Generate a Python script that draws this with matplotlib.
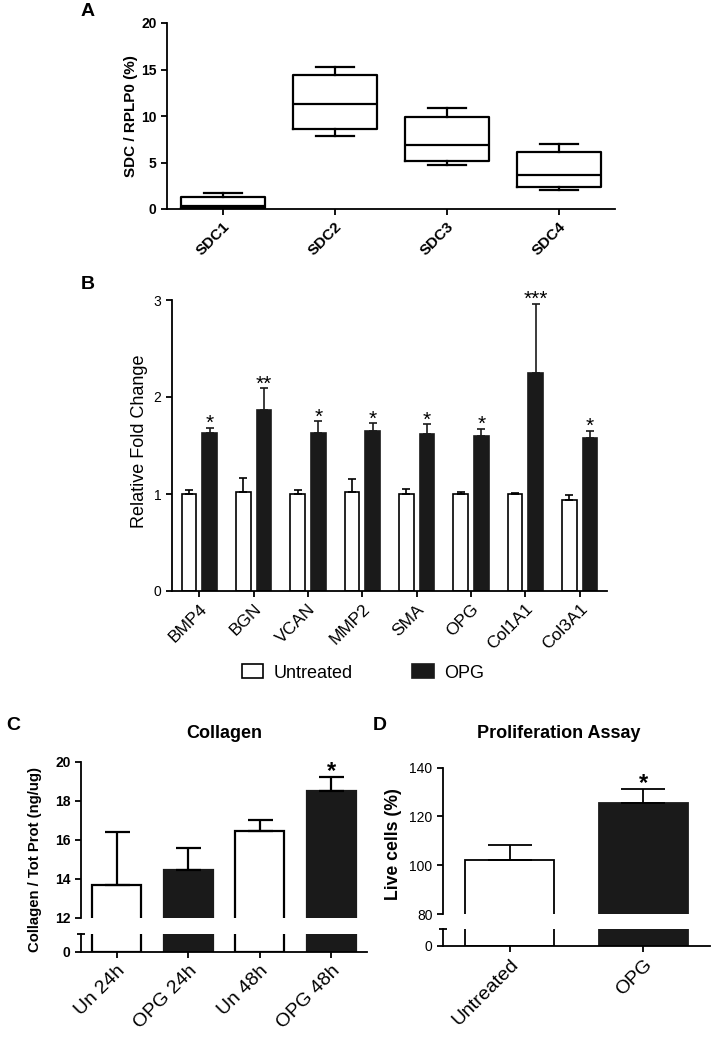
import numpy as np
import matplotlib.pyplot as plt
from matplotlib.patches import Patch

plt.rcParams['font.family'] = ['Liberation Sans', 'DejaVu Sans']
plt.rcParams['axes.linewidth'] = 1.3
plt.rcParams['xtick.major.width'] = 1.3
plt.rcParams['ytick.major.width'] = 1.3
plt.rcParams['xtick.major.size'] = 4
plt.rcParams['ytick.major.size'] = 4

# panel A - syndecan expression (box plots)
sdc_names = ['SDC1', 'SDC2', 'SDC3', 'SDC4']
sdc_whislo = [0.05, 7.86, 4.71, 2.0]
sdc_q1 = [0.15, 8.64, 5.14, 2.36]
sdc_med = [0.35, 11.32, 6.86, 3.64]
sdc_q3 = [1.29, 14.36, 9.89, 6.18]
sdc_whishi = [1.68, 15.25, 10.82, 7.0]

# panel B - relative fold change
genes = ['BMP4', 'BGN', 'VCAN', 'MMP2', 'SMA', 'OPG', 'Col1A1', 'Col3A1']
b_untreated = [1.00, 1.025, 1.00, 1.025, 1.00, 1.00, 1.00, 0.94]
b_untreated_err = [0.04, 0.145, 0.04, 0.13, 0.05, 0.025, 0.01, 0.045]
b_opg = [1.634, 1.861, 1.634, 1.648, 1.62, 1.603, 2.243, 1.579]
b_opg_err = [0.05, 0.23, 0.12, 0.08, 0.10, 0.07, 0.72, 0.075]
b_sig = ['*', '**', '*', '*', '*', '*', '***', '*']

# panel C - collagen
c_groups = ['Un 24h', 'OPG 24h', 'Un 48h', 'OPG 48h']
c_mean = [13.69, 14.44, 16.44, 18.50]
c_err = [2.69, 1.12, 0.55, 0.70]
c_sig = ['', '', '', '*']

# panel D - proliferation
d_groups = ['Untreated', 'OPG']
d_mean = [102.3, 125.4]
d_err = [6.0, 5.7]
d_sig = ['', '*']

BLACK = '#1a1a1a'
W, H = 719, 1050


def rect(l, t, r, b):
    return [l / W, (H - b) / H, (r - l) / W, (b - t) / H]


def clean(ax, bottom=True):
    ax.spines['top'].set_visible(False)
    ax.spines['right'].set_visible(False)
    if not bottom:
        ax.spines['bottom'].set_visible(False)
        ax.tick_params(axis='x', bottom=False, labelbottom=False)


fig = plt.figure(figsize=(7.19, 10.5), dpi=100)

# ---- A
axA = fig.add_axes(rect(167, 23, 615, 209))
stats = [dict(whislo=sdc_whislo[i], q1=sdc_q1[i], med=sdc_med[i], q3=sdc_q3[i],
              whishi=sdc_whishi[i], label=sdc_names[i]) for i in range(len(sdc_names))]
lp = dict(color='black', lw=1.6)
axA.bxp(stats, positions=range(1, 5), widths=0.75, capwidths=0.34, showfliers=False,
        boxprops=lp, medianprops=lp, whiskerprops=lp, capprops=lp)
axA.set_xlim(0.5, 4.5)
axA.set_ylim(0, 20)
axA.set_yticks(range(0, 21, 5))
axA.set_xticks(range(1, 5), sdc_names, rotation=45, ha='right', rotation_mode='anchor',
               fontweight='bold', fontsize=11)
plt.setp(axA.get_yticklabels(), fontweight='bold', fontsize=10)
axA.set_ylabel('SDC / RPLP0 (%)', fontweight='bold', fontsize=11)
axA.yaxis.set_label_coords(-0.065, 0.5)
clean(axA)

# ---- B
axB = fig.add_axes(rect(172, 300, 607, 591))
xb = np.arange(len(genes))
axB.bar(xb - 0.19, b_untreated, 0.27, color='white', edgecolor='black', lw=1.2)
axB.bar(xb + 0.19, b_opg, 0.27, color=BLACK, edgecolor=BLACK, lw=1.2)
axB.errorbar(xb - 0.19, b_untreated, yerr=[np.zeros(len(genes)), b_untreated_err], fmt='none',
             ecolor='black', elinewidth=1.2, capsize=3, capthick=1.2)
axB.errorbar(xb + 0.19, b_opg, yerr=[np.zeros(len(genes)), b_opg_err], fmt='none',
             ecolor=BLACK, elinewidth=1.2, capsize=3, capthick=1.2)
for i, s in enumerate(b_sig):
    axB.annotate(s, (xb[i] + 0.19, b_opg[i] + b_opg_err[i]), xytext=(0, -4),
                 textcoords='offset points', ha='center', va='bottom', fontsize=15)
axB.set_xlim(-0.5, len(genes) - 0.5)
axB.set_ylim(0, 3)
axB.set_yticks(range(0, 4))
axB.set_xticks(xb, genes, rotation=45, ha='right', rotation_mode='anchor', fontsize=12.5)
axB.tick_params(axis='y', labelsize=10)
axB.set_ylabel('Relative Fold Change', fontsize=13)
axB.yaxis.set_label_coords(-0.055, 0.515)
clean(axB)

handles = [Patch(facecolor='white', edgecolor='black', lw=1.2, label='Untreated'),
           Patch(facecolor=BLACK, edgecolor=BLACK, lw=1.2, label='OPG')]
fig.legend(handles=handles, loc='center', bbox_to_anchor=(0.505, 1 - 673 / H), ncol=2,
           frameon=False, fontsize=13, handlelength=1.17, handleheight=0.83,
           handletextpad=0.6, columnspacing=3.3)


# ---- C and D with broken axes
def broken_bars(ax_top, ax_bot, groups, means, errs, sig, width, lw, cap, ylim, yticks,
                bold_ticks, colors):
    x = np.arange(len(groups))
    for ax in (ax_top, ax_bot):
        ax.bar(x, means, width, color=colors, edgecolor=['black' if c == 'white' else c for c in colors],
               lw=lw)
        ax.set_xlim(-0.5, len(groups) - 0.5)
    ax_top.errorbar(x, means, yerr=[np.zeros(len(groups)), errs], fmt='none', ecolor='black',
                    elinewidth=lw, capsize=cap, capthick=lw)
    for i, s in enumerate(sig):
        if s:
            ax_top.annotate(s, (x[i], means[i] + errs[i]), xytext=(0, -4),
                            textcoords='offset points', ha='center', va='bottom',
                            fontsize=17, fontweight='bold')
    ax_top.set_ylim(*ylim)
    ax_top.set_yticks(yticks)
    ax_bot.set_ylim(0, 1)
    ax_bot.set_yticks([0])
    ax_bot.set_xticks(x, groups, rotation=45, ha='right', rotation_mode='anchor', fontsize=14)
    clean(ax_top, bottom=False)
    clean(ax_bot)
    for ax in (ax_top, ax_bot):
        plt.setp(ax.get_yticklabels(), fontsize=10, fontweight='bold' if bold_ticks else 'normal')
    # break mark on top of the lower spine
    ax_bot.plot([0], [1], marker='_', ms=6, mew=1.3, color='black',
                transform=ax_bot.transAxes, clip_on=False)


axC = fig.add_axes(rect(81, 761.7, 367, 917.7))
axC2 = fig.add_axes(rect(81, 934, 367, 951.7))
broken_bars(axC, axC2, c_groups, c_mean, c_err, c_sig, 0.68, 1.6, 9, (12, 20),
            range(12, 21, 2), True, ['white', BLACK, 'white', BLACK])
axC.set_ylabel('Collagen / Tot Prot (ng/ug)', fontweight='bold', fontsize=10.7)
axC.yaxis.set_label_coords(-0.136, 0.37)

axD = fig.add_axes(rect(443, 767.7, 710, 914))
axD2 = fig.add_axes(rect(443, 929, 710, 945.7))
broken_bars(axD, axD2, d_groups, d_mean, d_err, d_sig, 0.67, 1.3, 16, (80, 140),
            range(80, 141, 20), False, ['white', BLACK])
axD.set_ylabel('Live cells (%)', fontweight='bold', fontsize=12.7)
axD.yaxis.set_label_coords(-0.154, 0.478)

# titles and panel letters
fig.text(224 / W, 1 - 733 / H, 'Collagen', ha='center', va='center', fontsize=13, fontweight='bold')
fig.text(559 / W, 1 - 733 / H, 'Proliferation Assay', ha='center', va='center', fontsize=13,
         fontweight='bold')
for letter, (lx, ly) in zip('ABCD', [(88, 12), (88, 285), (13, 725), (380, 725)]):
    fig.text(lx / W, 1 - ly / H, letter, ha='center', va='center', fontsize=14, fontweight='bold')

fig.savefig('out.png', dpi=100)
plt.close(fig)
